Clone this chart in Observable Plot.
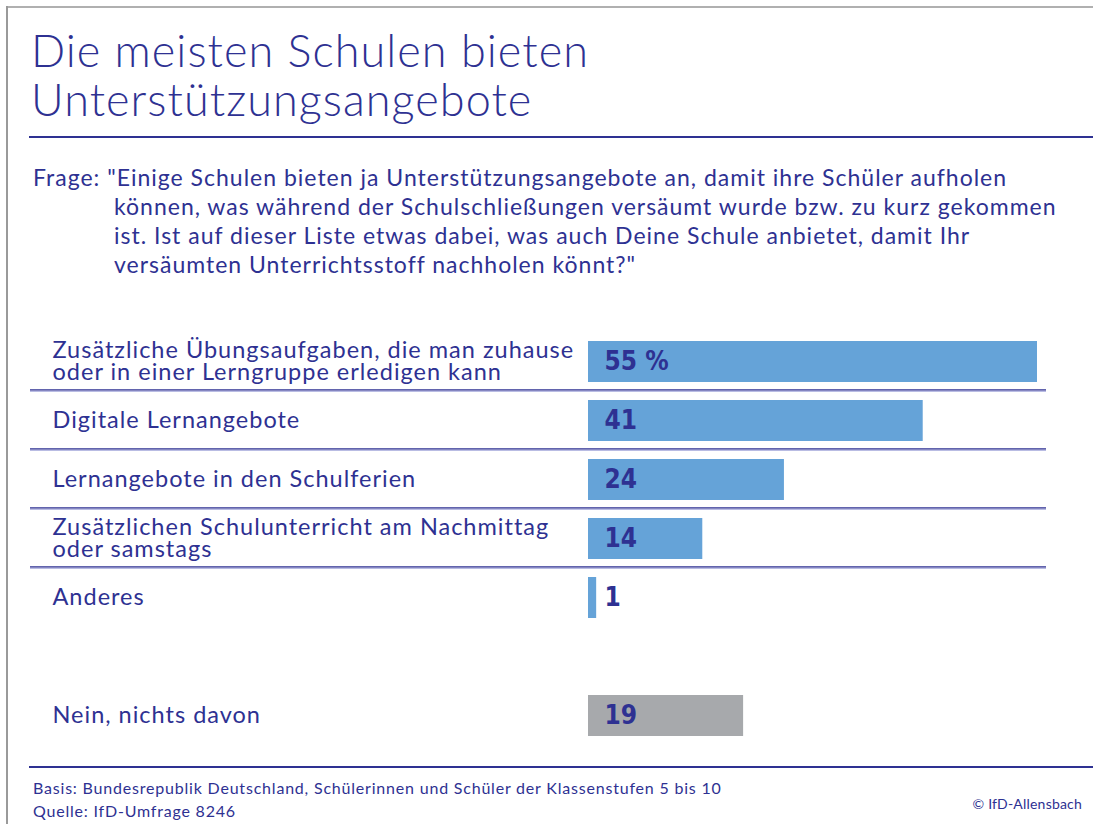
<!DOCTYPE html>
<html>
<head>
<meta charset="utf-8">
<script src="https://cdn.jsdelivr.net/npm/d3@7"></script>
<script src="https://cdn.jsdelivr.net/npm/@observablehq/plot@0.6"></script>
<style>
  html, body { margin: 0; padding: 0; background: #fff; }
  #page { position: relative; width: 1093px; height: 824px; overflow: hidden; background: #fff; font-family: "Lato", "Noto Sans", sans-serif; color: #2e3192; }
  .abs { position: absolute; }
  #frameTop { left: 6px; top: 6px; right: 0; height: 2px; background: #b0b0b0; }
  #frameLeft { left: 6px; top: 6px; bottom: 0; width: 1.5px; background: #9a9a9a; }
  #title { left: 31px; top: 26px; margin: 0; font-weight: 300; font-size: 45px; line-height: 49px; letter-spacing: 1.05px; white-space: nowrap; }
  #titleRule { left: 29px; top: 136px; right: 0; height: 1.5px; background: #2e3192; }
  #question { left: 114px; top: 163px; text-indent: -81px; font-size: 23px; line-height: 29px; letter-spacing: 1px; white-space: nowrap; }
  #chart { left: 0; top: 320px; }
  #footRule { left: 29px; top: 766px; right: 0; height: 1.5px; background: #2e3192; }
  #basis { left: 33px; top: 776px; font-size: 16px; line-height: 23px; letter-spacing: 0.8px; white-space: nowrap; }
  #copy { right: 11px; top: 795px; font-size: 14px; letter-spacing: 0.2px; white-space: nowrap; }
</style>
</head>
<body>
<div id="page">
  <div id="frameTop" class="abs"></div>
  <div id="frameLeft" class="abs"></div>
  <h1 id="title" class="abs"></h1>
  <div id="titleRule" class="abs"></div>
  <div id="question" class="abs"></div>
  <div id="chart" class="abs"></div>
  <div id="footRule" class="abs"></div>
  <div id="basis" class="abs"></div>
  <div id="copy" class="abs"></div>
</div>
<script>
// ---- text content ----
const titleLines = ["Die meisten Schulen bieten", "Unterstützungsangebote"];
const questionLines = [
  "Frage: \"Einige Schulen bieten ja Unterstützungsangebote an, damit ihre Schüler aufholen",
  "können, was während der Schulschließungen versäumt wurde bzw. zu kurz gekommen",
  "ist. Ist auf dieser Liste etwas dabei, was auch Deine Schule anbietet, damit Ihr",
  "versäumten Unterrichtsstoff nachholen könnt?\""
];
const footerLines = [
  "Basis: Bundesrepublik Deutschland, Schülerinnen und Schüler der Klassenstufen 5 bis 10",
  "Quelle: IfD-Umfrage 8246"
];
const copyright = "© IfD-Allensbach";

// ---- data ----
const categories = [
  "Zusätzliche Übungsaufgaben, die man zuhause\noder in einer Lerngruppe erledigen kann",
  "Digitale Lernangebote",
  "Lernangebote in den Schulferien",
  "Zusätzlichen Schulunterricht am Nachmittag\noder samstags",
  "Anderes",
  "Nein, nichts davon"
];
const values = [55, 41, 24, 14, 1, 19];
const valueLabels = ["55 %", "41", "24", "14", "1", "19"];
const groups = ["offer", "offer", "offer", "offer", "offer", "none"];

const navy = "#2e3192";
const blue = "#65a3d8";
const gray = "#a7a9ac";
const lavender = "#b9bce3";

const data = categories.map((c, i) => ({cat: c, value: values[i], label: valueLabels[i], group: groups[i]}));
const yDomain = [...categories.slice(0, 5), " ", categories[5]];
const separated = categories.slice(0, 4);

document.getElementById("title").innerHTML = titleLines.join("<br>");
document.getElementById("question").innerHTML = questionLines.join("<br>");
document.getElementById("basis").innerHTML = footerLines.join("<br>");
document.getElementById("copy").textContent = copyright;

const H = 440, mTop = 10, mBottom = 12;
const step = (H - mTop - mBottom) / yDomain.length;

const plot = Plot.plot({
  width: 1093,
  height: H,
  marginTop: mTop,
  marginBottom: mBottom,
  marginLeft: 30,
  marginRight: 47,
  style: {fontFamily: "Lato, 'Noto Sans', sans-serif", background: "transparent", color: navy},
  x: {axis: null, domain: [0, 55], range: [588, 1037]},
  y: {axis: null, domain: yDomain, paddingInner: 0.3, paddingOuter: 0.15},
  color: {domain: ["offer", "none"], range: [blue, gray]},
  marks: [
    Plot.ruleY(separated, {y: d => d, dy: step / 2 - 0.5, stroke: lavender, strokeWidth: 1.5}),
    Plot.ruleY(separated, {y: d => d, dy: step / 2 - 2, stroke: navy, strokeWidth: 1.4}),
    Plot.barX(data, {y: "cat", x: "value", fill: "group"}),
    Plot.text(data, {y: "cat", x: 0, text: "label", dx: 16, textAnchor: "start", fill: navy, fontWeight: "bold", fontSize: 26, fontFamily: "'Liberation Sans Narrow', 'DejaVu Sans Condensed', sans-serif"}),
    Plot.text(data, {y: "cat", text: "cat", frameAnchor: "left", dx: 22, textAnchor: "start", fill: navy, fontSize: 23.5, lineHeight: 0.95})
  ]
});
// widen the row labels to the reference's letter spacing
d3.select(plot).selectAll("g[aria-label='text']").filter(function() { return this.getAttribute("font-weight") !== "bold"; }).attr("letter-spacing", "1px");
document.getElementById("chart").appendChild(plot);
</script>
</body>
</html>
